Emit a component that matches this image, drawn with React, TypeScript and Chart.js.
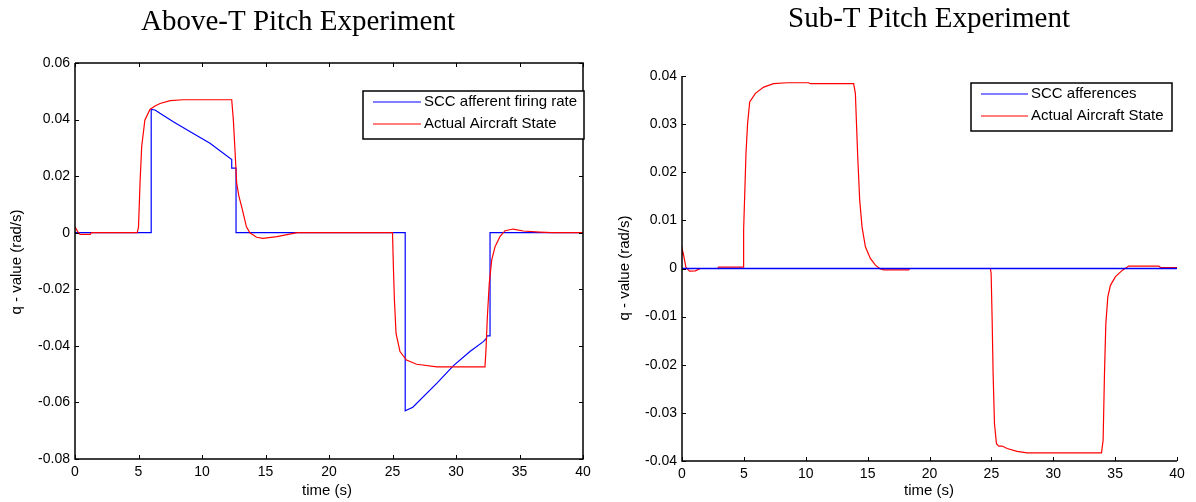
import React, { useEffect, useRef } from "react";
import { Chart, registerables } from "chart.js";

Chart.register(...registerables);

// ---------- data ----------
const timeTicks = [0, 5, 10, 15, 20, 25, 30, 35, 40];
const aboveYTicks = [0.06, 0.04, 0.02, 0, -0.02, -0.04, -0.06, -0.08];
const subYTicks = [0.04, 0.03, 0.02, 0.01, 0, -0.01, -0.02, -0.03, -0.04];

const aboveTitle = "Above-T Pitch Experiment";
const subTitle = "Sub-T Pitch Experiment";
const xTitle = "time (s)";
const yTitle = "q - value (rad/s)";
const aboveLegend = ["SCC afferent firing rate", "Actual Aircraft State"];
const subLegend = ["SCC afferences", "Actual Aircraft State"];

// Above-T: actual aircraft state (red)
const aboveRedT = [0, 0.2, 0.4, 1.2, 1.3, 4.9, 5.0, 5.12, 5.25, 5.5, 5.9, 6.3, 6.7, 7.5, 8.5, 12.34, 12.47, 12.6, 12.73, 12.9, 13.12, 13.5, 13.77, 14.3, 14.8, 15.9, 16.9, 17.5, 25.0, 25.07, 25.15, 25.28, 25.59, 26.1, 26.9, 28.5, 32.28, 32.36, 32.47, 32.62, 32.81, 33.07, 33.46, 33.86, 34.5, 35.3, 36.6, 37.5, 40];
const aboveRedQ = [0.0021, 0.0005, -0.0006, -0.0006, 0, 0, 0.002, 0.0175, 0.0304, 0.0398, 0.0436, 0.0448, 0.0457, 0.0467, 0.047, 0.047, 0.0398, 0.029, 0.0175, 0.013, 0.0092, 0.0021, 0, -0.0016, -0.002, -0.0014, -0.0005, 0, 0, -0.012, -0.0238, -0.0356, -0.042, -0.045, -0.0465, -0.0474, -0.0474, -0.0415, -0.0297, -0.0179, -0.0097, -0.005, -0.0014, 0.0007, 0.0013, 0.0006, 0.0002, 0, 0];

// Above-T: SCC afferent firing rate (blue)
const aboveBlueT = [0, 6.0, 6.0, 6.3, 6.69, 7.74, 9.31, 10.63, 12.34, 12.34, 12.68, 12.68, 26.0, 26.0, 26.6, 28.5, 29.8, 31.1, 32.15, 32.41, 32.41, 32.68, 32.68, 40];
const aboveBlueQ = [0, 0, 0.0436, 0.0434, 0.0422, 0.0392, 0.0351, 0.0316, 0.0259, 0.0228, 0.0228, 0, 0, -0.063, -0.0617, -0.0532, -0.047, -0.042, -0.0385, -0.0373, -0.0365, -0.0365, 0, 0];

// Sub-T: actual aircraft state (red)
const subRedT = [0, 0.05, 0.13, 0.32, 0.61, 1.08, 1.48, 2.88, 2.95, 4.93, 4.98, 5.17, 5.3, 5.47, 5.93, 6.6, 7.4, 8.49, 10.24, 10.37, 13.87, 14.01, 14.09, 14.2, 14.36, 14.55, 14.82, 15.22, 15.63, 16.03, 16.3, 18.32, 18.4, 24.92, 24.98, 25.06, 25.14, 25.25, 25.41, 25.6, 25.87, 26.27, 27.08, 27.89, 33.9, 34.03, 34.14, 34.25, 34.41, 34.62, 35.03, 35.57, 36.1, 38.53, 38.67, 40];
const subRedQ = [0.003, 0.0037, 0.0028, 0.0002, -0.00056, -0.0005, 0, 0, 0.0003, 0.0003, 0.008, 0.0239, 0.0301, 0.0346, 0.0364, 0.0377, 0.0384, 0.0386, 0.0386, 0.0384, 0.0384, 0.0364, 0.0308, 0.0232, 0.0142, 0.0086, 0.0045, 0.0021, 0.0007, -0.0001, -0.0003, -0.0003, 0, 0, -0.001, -0.0104, -0.0218, -0.0322, -0.0364, -0.0369, -0.0369, -0.0374, -0.038, -0.0383, -0.0383, -0.0357, -0.0218, -0.0114, -0.0059, -0.0035, -0.0017, -0.0004, 0.0005, 0.0005, 0.0002, 0.0002];

// Sub-T: SCC afferences (blue)
const subBlueT = [0, 40];
const subBlueQ = [0, 0];

const RED = "#ff0000";
const BLUE = "#0000ff";
const SANS = '"Liberation Sans", Arial, Helvetica, sans-serif';
const SERIF = '"Liberation Serif", "Times New Roman", Times, serif';

const zip = (t: number[], q: number[]) => t.map((x, i) => ({ x, y: q[i] }));
const fmtY = (v: number) => (Math.abs(v) < 1e-12 ? "0" : Number(v).toFixed(2));

const framePlugin = {
  id: "frame",
  afterDatasetsDraw(chart: any, _args: any, o: any) {
    const { ctx, chartArea } = chart;
    const { left, right, top, bottom } = chartArea;
    const xs = chart.scales.x;
    const ys = chart.scales.y;
    ctx.save();
    // inward ticks
    ctx.strokeStyle = "#000";
    ctx.lineWidth = 1;
    const tl = 4;
    ctx.beginPath();
    for (const v of o.xTicks) {
      const px = Math.round(xs.getPixelForValue(v)) + 0.5;
      ctx.moveTo(px, bottom);
      ctx.lineTo(px, bottom - tl);
      if (o.box) {
        ctx.moveTo(px, top);
        ctx.lineTo(px, top + tl);
      }
    }
    for (const v of o.yTicks) {
      const py = Math.round(ys.getPixelForValue(v)) + 0.5;
      ctx.moveTo(left, py);
      ctx.lineTo(left + tl, py);
      if (o.box) {
        ctx.moveTo(right, py);
        ctx.lineTo(right - tl, py);
      }
    }
    ctx.stroke();
    // axes frame
    ctx.lineWidth = 1.5;
    ctx.beginPath();
    ctx.moveTo(left, top);
    ctx.lineTo(left, bottom);
    ctx.lineTo(right, bottom);
    if (o.box) {
      ctx.lineTo(right, top);
      ctx.lineTo(left, top);
    }
    ctx.stroke();

    // legend
    const L = o.legend;
    ctx.fillStyle = "#fff";
    ctx.fillRect(L.x0, L.y0, L.x1 - L.x0, L.y1 - L.y0);
    ctx.lineWidth = 1.5;
    ctx.strokeStyle = "#000";
    ctx.strokeRect(L.x0, L.y0, L.x1 - L.x0, L.y1 - L.y0);
    ctx.font = `15px ${SANS}`;
    ctx.textBaseline = "middle";
    ctx.textAlign = "left";
    L.labels.forEach((lab: string, i: number) => {
      const ry = L.rows[i];
      ctx.strokeStyle = L.colors[i];
      ctx.lineWidth = 1.2;
      ctx.beginPath();
      ctx.moveTo(L.lx0, ry);
      ctx.lineTo(L.lx1, ry);
      ctx.stroke();
      ctx.fillStyle = "#000";
      ctx.fillText(lab, L.tx, ry);
    });

    // titles
    ctx.fillStyle = "#000";
    ctx.font = `29px ${SERIF}`;
    ctx.textAlign = "center";
    ctx.textBaseline = "alphabetic";
    ctx.fillText(o.title, o.titleX, o.titleY);

    ctx.font = `15px ${SANS}`;
    ctx.textBaseline = "middle";
    ctx.fillText(o.xTitle, o.xTitleX, o.xTitleY);

    ctx.translate(o.yTitleX, o.yTitleY);
    ctx.rotate(-Math.PI / 2);
    ctx.fillText(o.yTitle, 0, 0);
    ctx.restore();
  },
};

function makeConfig(p: any) {
  return {
    type: "line",
    data: { datasets: p.datasets },
    plugins: [framePlugin],
    options: {
      responsive: false,
      animation: false,
      devicePixelRatio: 1,
      events: [],
      layout: { padding: p.padding },
      elements: { point: { radius: 0 }, line: { tension: 0, borderWidth: 1.2 } },
      plugins: {
        legend: { display: false },
        title: { display: false },
        tooltip: { enabled: false },
        frame: p.frame,
      },
      scales: {
        x: {
          type: "linear",
          min: 0,
          max: 40,
          grid: { display: false, drawTicks: false },
          border: { display: false },
          afterBuildTicks: (s: any) => {
            s.ticks = timeTicks.map((v) => ({ value: v }));
          },
          afterFit: (s: any) => {
            s.height = p.xHeight;
          },
          ticks: {
            color: "#000",
            padding: 5,
            maxRotation: 0,
            autoSkip: false,
            font: { family: SANS, size: 14 },
            callback: (v: any) => String(v),
          },
        },
        y: {
          type: "linear",
          min: p.yMin,
          max: p.yMax,
          grid: { display: false, drawTicks: false },
          border: { display: false },
          afterBuildTicks: (s: any) => {
            s.ticks = p.yTicks.map((v: number) => ({ value: v }));
          },
          afterFit: (s: any) => {
            s.width = p.yWidth;
          },
          ticks: {
            color: "#000",
            padding: 5,
            autoSkip: false,
            font: { family: SANS, size: 14 },
            callback: (v: any) => fmtY(Number(v)),
          },
        },
      },
    },
  };
}

function ChartCanvas({ cfg, left }: { cfg: any; left: number }) {
  const ref = useRef<HTMLCanvasElement | null>(null);
  useEffect(() => {
    if (!ref.current) return;
    const chart = new Chart(ref.current, cfg);
    return () => chart.destroy();
  }, []);
  return (
    <div style={{ position: "absolute", left, top: 0, width: 598, height: 502 }}>
      <canvas ref={ref} width={598} height={502} style={{ width: 598, height: 502, display: "block" }} />
    </div>
  );
}

export default function App() {
  const aboveCfg = makeConfig({
    datasets: [
      { label: aboveLegend[1], data: zip(aboveRedT, aboveRedQ), borderColor: RED, backgroundColor: RED, fill: false },
      { label: aboveLegend[0], data: zip(aboveBlueT, aboveBlueQ), borderColor: BLUE, backgroundColor: BLUE, fill: false },
    ],
    padding: { left: 0, right: 15, top: 63, bottom: 0 },
    xHeight: 43,
    yWidth: 75,
    yMin: -0.08,
    yMax: 0.06,
    yTicks: aboveYTicks,
    frame: {
      box: true,
      xTicks: timeTicks,
      yTicks: aboveYTicks,
      title: aboveTitle,
      titleX: 298,
      titleY: 30,
      xTitle,
      xTitleX: 327,
      xTitleY: 491,
      yTitle,
      yTitleX: 17,
      yTitleY: 262,
      legend: {
        x0: 363, y0: 91, x1: 584, y1: 139,
        rows: [102, 124],
        lx0: 373, lx1: 421, tx: 424,
        labels: aboveLegend,
        colors: [BLUE, RED],
      },
    },
  });

  const subCfg = makeConfig({
    datasets: [
      { label: subLegend[0], data: zip(subBlueT, subBlueQ), borderColor: BLUE, backgroundColor: BLUE, fill: false, borderWidth: 1.3 },
      { label: subLegend[1], data: zip(subRedT, subRedQ), borderColor: RED, backgroundColor: RED, fill: false },
    ],
    padding: { left: 0, right: 19, top: 76, bottom: 0 },
    xHeight: 41,
    yWidth: 84,
    yMin: -0.04,
    yMax: 0.04,
    yTicks: subYTicks,
    frame: {
      box: false,
      xTicks: timeTicks,
      yTicks: subYTicks,
      title: subTitle,
      titleX: 331,
      titleY: 27,
      xTitle,
      xTitleX: 331,
      xTitleY: 491,
      yTitle,
      yTitleX: 27,
      yTitleY: 268,
      legend: {
        x0: 373, y0: 83, x1: 574, y1: 131,
        rows: [94, 116],
        lx0: 383, lx1: 430, tx: 433,
        labels: subLegend,
        colors: [BLUE, RED],
      },
    },
  });

  return (
    <div style={{ position: "fixed", left: 0, top: 0, width: 1196, height: 502, background: "#fff", overflow: "hidden" }}>
      <ChartCanvas cfg={aboveCfg} left={0} />
      <ChartCanvas cfg={subCfg} left={598} />
    </div>
  );
}
